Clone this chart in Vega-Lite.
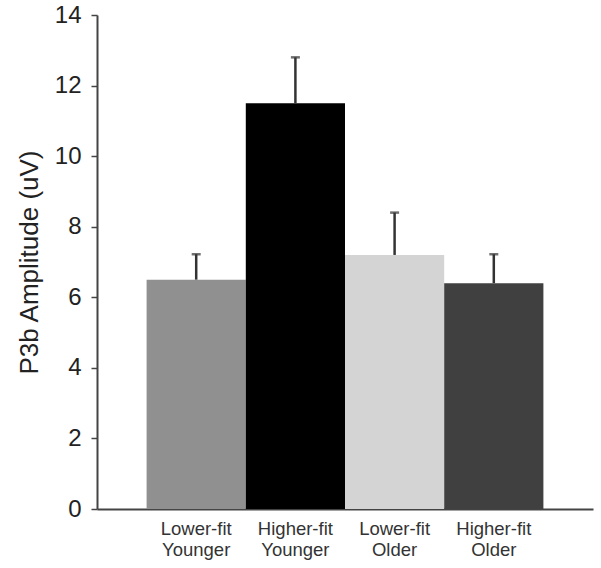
{
  "$schema": "https://vega.github.io/schema/vega-lite/v6.json",
  "autosize": {"type": "none"},
  "width": 496,
  "height": 494,
  "padding": {"left": 97, "top": 15, "right": 8, "bottom": 59},
  "background": "white",
  "config": {
    "view": {"stroke": null},
    "font": "Liberation Sans"
  },
  "data": {
    "values": [
      {"group": "Lower-fit Younger", "amp": 6.5, "upper": 7.22},
      {"group": "Higher-fit Younger", "amp": 11.5, "upper": 12.8},
      {"group": "Lower-fit Older", "amp": 7.2, "upper": 8.4},
      {"group": "Higher-fit Older", "amp": 6.4, "upper": 7.22}
    ]
  },
  "encoding": {
    "x": {
      "field": "group",
      "type": "nominal",
      "sort": null,
      "scale": {"paddingInner": 0, "paddingOuter": 0.5},
      "axis": {
        "title": null,
        "labelAngle": 0,
        "labelExpr": "split(datum.value, ' ')",
        "labelFontSize": 18.5,
        "labelLineHeight": 21,
        "labelColor": "#333333",
        "labelPadding": 10,
        "ticks": false,
        "domainColor": "#444444",
        "domainWidth": 2
      }
    }
  },
  "layer": [
    {
      "mark": {"type": "bar"},
      "encoding": {
        "y": {
          "field": "amp",
          "type": "quantitative",
          "scale": {"domain": [0, 14]},
          "axis": {
            "title": "P3b Amplitude (uV)",
            "titleFontSize": 26,
            "titleFontWeight": "normal",
            "titleColor": "#222222",
            "titlePadding": 12,
            "values": [0, 2, 4, 6, 8, 10, 12, 14],
            "labelFontSize": 24,
            "labelColor": "#222222",
            "labelPadding": 10,
            "tickSize": 6,
            "tickColor": "#444444",
            "tickWidth": 1.5,
            "domainColor": "#444444",
            "domainWidth": 2,
            "grid": false
          }
        },
        "color": {
          "field": "group",
          "type": "nominal",
          "sort": null,
          "legend": null,
          "scale": {
            "domain": ["Lower-fit Younger", "Higher-fit Younger", "Lower-fit Older", "Higher-fit Older"],
            "range": ["#909090", "#000000", "#d4d4d4", "#404040"]
          }
        }
      }
    },
    {
      "mark": {"type": "rule", "color": "#333333", "strokeWidth": 2.5},
      "encoding": {
        "y": {"field": "amp", "type": "quantitative"},
        "y2": {"field": "upper"}
      }
    },
    {
      "mark": {"type": "tick", "color": "#333333", "thickness": 2.5, "size": 9},
      "encoding": {
        "y": {"field": "upper", "type": "quantitative"}
      }
    }
  ]
}
